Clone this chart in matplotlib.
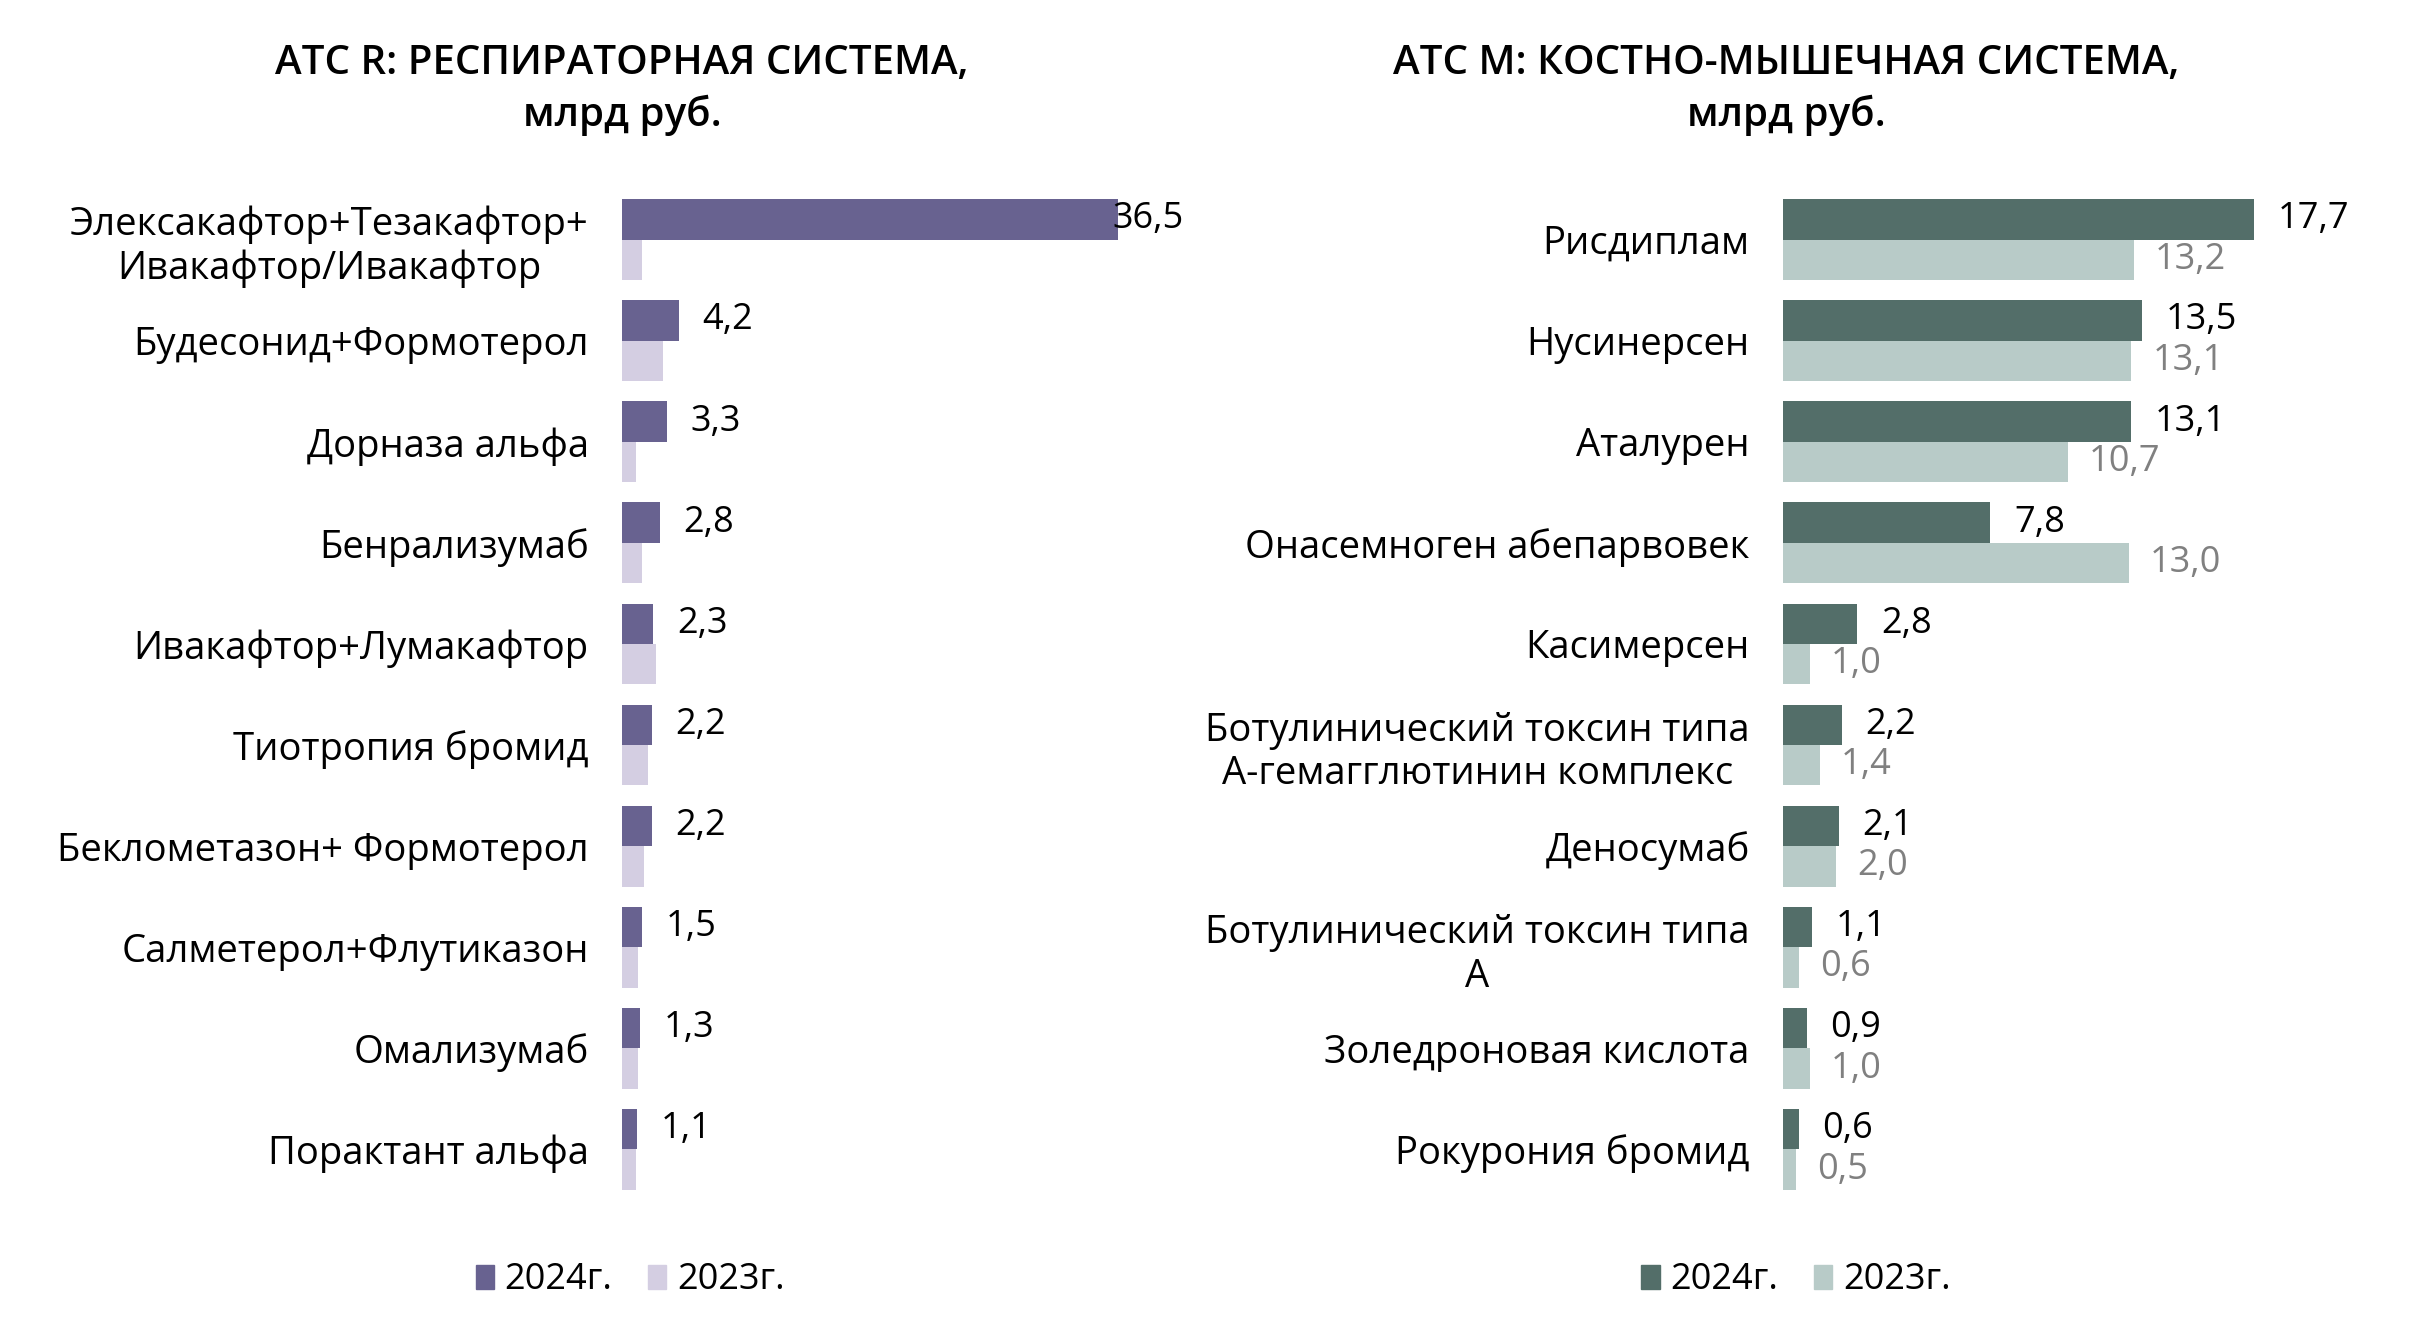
import matplotlib.pyplot as plt
import numpy as np

plt.rcParams['font.family'] = ['Open Sans', 'DejaVu Sans']

# ATC R
r_drugs = ['Элексакафтор+Тезакафтор+\nИвакафтор/Ивакафтор', 'Будесонид+Формотерол',
           'Дорназа альфа', 'Бенрализумаб', 'Ивакафтор+Лумакафтор', 'Тиотропия бромид',
           'Беклометазон+ Формотерол', 'Салметерол+Флутиказон', 'Омализумаб',
           'Порактант альфа']
r_2024 = [36.5, 4.2, 3.3, 2.8, 2.3, 2.2, 2.2, 1.5, 1.3, 1.1]
r_2023 = [1.5, 3.0, 1.05, 1.5, 2.5, 1.9, 1.65, 1.2, 1.2, 1.05]

# ATC M
m_drugs = ['Рисдиплам', 'Нусинерсен', 'Аталурен', 'Онасемноген абепарвовек', 'Касимерсен',
           'Ботулинический токсин типа\nА-гемагглютинин комплекс', 'Деносумаб',
           'Ботулинический токсин типа\nА', 'Золедроновая кислота', 'Рокурония бромид']
m_2024 = [17.7, 13.5, 13.1, 7.8, 2.8, 2.2, 2.1, 1.1, 0.9, 0.6]
m_2023 = [13.2, 13.1, 10.7, 13.0, 1.0, 1.4, 2.0, 0.6, 1.0, 0.5]

years = ['2024г.', '2023г.']

W, H = 2424, 1320
FS = 26
fig = plt.figure(figsize=(W / 100, H / 100), dpi=100)

def fmt(v):
    return f'{v:.1f}'.replace('.', ',')

def panel(rect, xmax, drugs, v24, v23, c24, c23, label23, clip_top, title, tx, lx):
    ax = fig.add_axes(rect)
    y = np.arange(len(drugs))
    h = 0.4
    ax.barh(y - h / 2, v24, height=h, color=c24)
    ax.barh(y + h / 2, v23, height=h, color=c23)
    ax.set_xlim(0, xmax)
    ax.set_ylim(len(drugs) - 0.5, -0.5)
    ax.set_yticks(y)
    ax.set_yticklabels(drugs, fontsize=27.5, ma='center')
    ax.tick_params(axis='y', length=0, pad=24)
    ax.set_xticks([])
    for s in ax.spines.values():
        s.set_visible(False)
    vmax = max(v24)
    for yi, v in zip(y, v24):
        # the biggest label in the left panel sits over the bar end
        off = -4 if (clip_top and v == vmax) else 17
        ax.annotate(fmt(v), (v, yi - h / 2), xytext=(off, 0), textcoords='offset points',
                    va='center', ha='left', fontsize=FS, color='black')
    if label23:
        for yi, v in zip(y, v23):
            ax.annotate(fmt(v), (v, yi + h / 2), xytext=(15, 0), textcoords='offset points',
                        va='center', ha='left', fontsize=FS, color='#808080')
    fig.text(tx, 0.967, title, ha='center', va='top', fontsize=29, fontweight='semibold',
             linespacing=1.35)
    hs = [plt.Rectangle((0, 0), 1, 1, color=c24), plt.Rectangle((0, 0), 1, 1, color=c23)]
    fig.legend(hs, years, loc='center', bbox_to_anchor=(lx, 0.03), ncol=2, frameon=False,
               fontsize=FS, handlelength=0.5, handleheight=0.65, handletextpad=0.3,
               columnspacing=1.0)
    return ax

panel([622 / W, 120 / H, 40 * 13.6 / W, 1011 / H], 40, r_drugs, r_2024, r_2023,
      '#686290', '#d4cee2', False, True, 'АТС R: РЕСПИРАТОРНАЯ СИСТЕМА,\nмлрд руб.', 0.2566, 0.26)
panel([1783 / W, 120 / H, 20 * 26.6 / W, 1011 / H], 20, m_drugs, m_2024, m_2023,
      '#536e69', '#b8cbc8', True, False, 'АТС М: КОСТНО-МЫШЕЧНАЯ СИСТЕМА,\nмлрд руб.', 0.737, 0.741)

fig.savefig('out.png', dpi=100)
